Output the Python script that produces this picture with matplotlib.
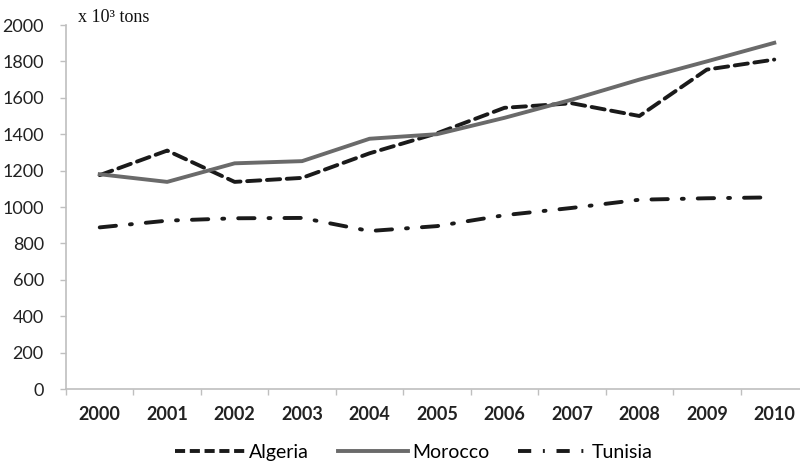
import matplotlib
matplotlib.use("Agg")
import matplotlib.pyplot as plt
from matplotlib.lines import Line2D

years = ["2000", "2001", "2002", "2003", "2004", "2005", "2006", "2007", "2008", "2009", "2010"]
algeria = [1175, 1310, 1138, 1160, 1295, 1405, 1545, 1570, 1500, 1755, 1810]
morocco = [1180, 1138, 1240, 1252, 1375, 1400, 1490, 1590, 1700, 1800, 1902]
tunisia = [888, 925, 938, 940, 868, 895, 955, 995, 1040, 1048, 1053]
yticks = [0, 200, 400, 600, 800, 1000, 1200, 1400, 1600, 1800, 2000]

fig = plt.figure(figsize=(8, 4.65), dpi=100)
ax = fig.add_axes([66/800, 1-389/465, (808-66)/800, (389-25)/465])

x = list(range(len(years)))
lw = 2.8
alg_d = (3.4, 1.7)
tun_d = (4.2, 3.6, 0.5, 3.6)
ax.plot(x, algeria, color="#1a1a1a", lw=lw, dashes=alg_d, dash_capstyle="round", solid_joinstyle="round")
ax.plot(x, morocco, color="#6a6a6a", lw=lw)
ax.plot(x, tunisia, color="#1a1a1a", lw=lw, dashes=tun_d, dash_capstyle="round")

ax.set_xlim(-0.5, 10.5)
ax.set_ylim(0, 2000)
ax.set_yticks(yticks)
ax.set_yticklabels([str(v) for v in yticks], fontsize=13, family="Lato", color="#222222")
ax.set_xticks(x)
ax.set_xticklabels(years, fontsize=13, family="Lato", fontweight="bold", color="#222222")
ax.set_xticks([i - 0.5 for i in range(len(years) + 1)], minor=True)
ax.tick_params(axis="x", which="major", length=0, pad=12)
ax.tick_params(axis="x", which="minor", length=4, color="#bfbfbf", width=1)
ax.tick_params(axis="y", which="major", length=4, color="#bfbfbf", width=1, pad=12)

for s in ["top", "right"]:
    ax.spines[s].set_visible(False)
for s in ["left", "bottom"]:
    ax.spines[s].set_color("#bfbfbf")
    ax.spines[s].set_linewidth(1.2)

fig.text(78/800, 1-17/465, "x 10³ tons", ha="left", va="center",
         fontsize=13, family="Liberation Serif", color="#111111")

handles = [
    Line2D([], [], color="#1a1a1a", lw=lw, dashes=(2.6, 1.2)),
    Line2D([], [], color="#6a6a6a", lw=lw),
    Line2D([], [], color="#1a1a1a", lw=lw, dashes=(3.4, 3.0, 0.5, 3.0)),
]
fig.legend(handles, ["Algeria", "Morocco", "Tunisia"], loc="center", bbox_to_anchor=(414/800, 1-452/465),
           ncol=3, frameon=False, handlelength=3.6, columnspacing=1.5, handletextpad=0.2,
           prop={"family": "Lato", "size": 14})

fig.savefig("out.png", dpi=100)
